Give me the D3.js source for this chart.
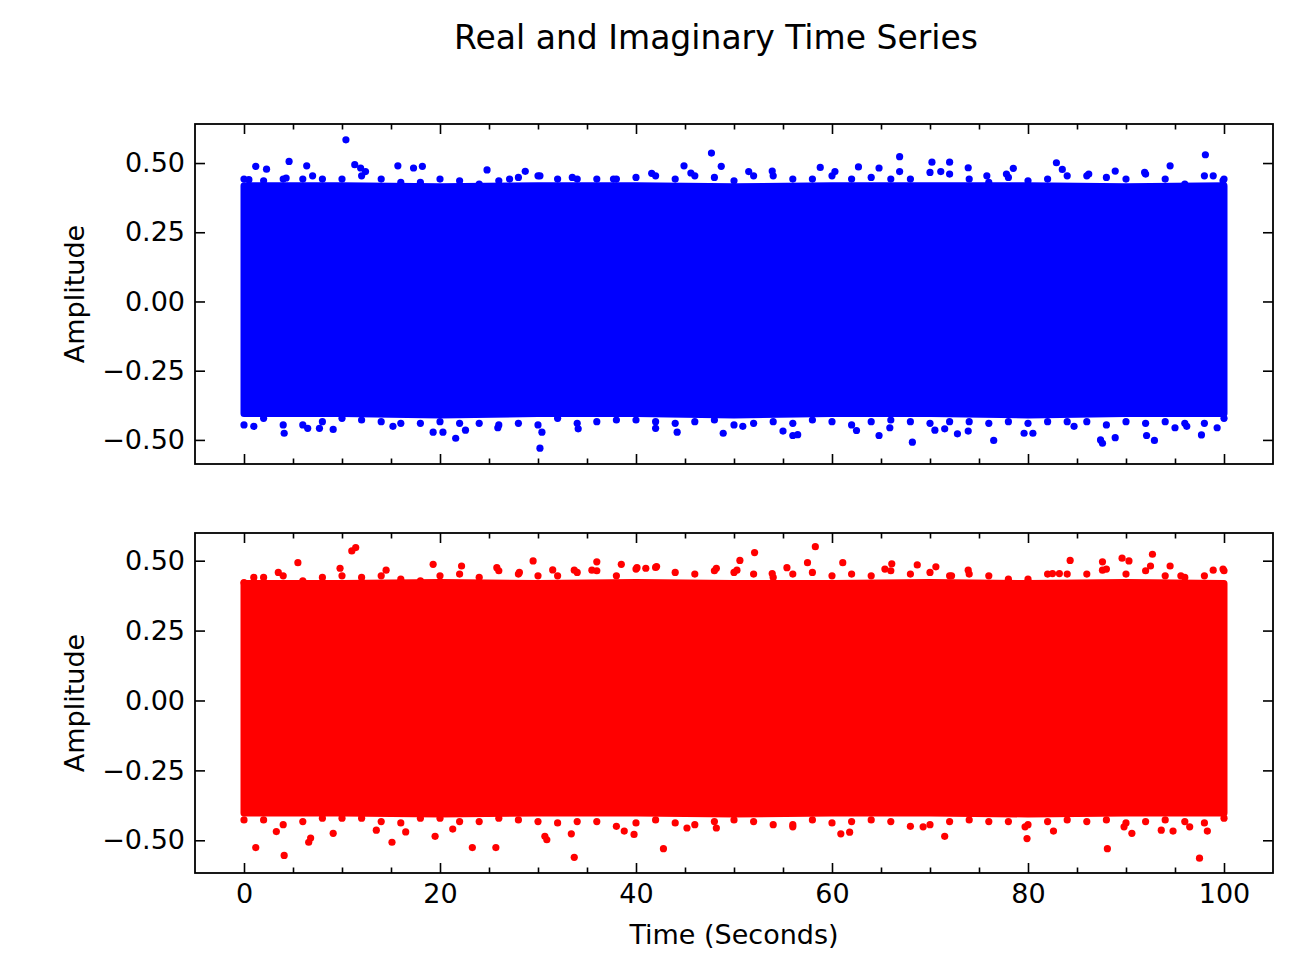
<!DOCTYPE html>
<html>
<head>
<meta charset="utf-8">
<script src="https://cdn.jsdelivr.net/npm/d3@7"></script>
<style>
  body { margin: 0; background: #fff; }
  text { font-family: "DejaVu Sans", sans-serif; fill: #000; }
</style>
</head>
<body>
<script>
// ---- values ----
const xTicks = [0, 20, 40, 60, 80, 100];
const xMinorTicks = [5, 10, 15, 25, 30, 35, 45, 50, 55, 65, 70, 75, 85, 90, 95];
const yTicks = [-0.5, -0.25, 0, 0.25, 0.5];

// solid core of the dense noise cloud, every 10 s
const coreTimes = [0, 10, 20, 30, 40, 50, 60, 70, 80, 90, 100];
const realCoreHi = [0.418, 0.418, 0.414, 0.418, 0.418, 0.414, 0.418, 0.418, 0.418, 0.414, 0.418];
const realCoreLo = [-0.405, -0.405, -0.41, -0.405, -0.405, -0.41, -0.405, -0.405, -0.41, -0.405, -0.405];
const imagCoreHi = [0.418, 0.418, 0.422, 0.418, 0.422, 0.418, 0.418, 0.422, 0.418, 0.422, 0.418];
const imagCoreLo = [-0.402, -0.402, -0.406, -0.402, -0.402, -0.406, -0.402, -0.402, -0.406, -0.402, -0.402];

// ragged edge of the cloud, every 2 s
const edgeTimes = [0, 2, 4, 6, 8, 10, 12, 14, 16, 18, 20, 22, 24, 26, 28, 30, 32, 34, 36, 38, 40,
  42, 44, 46, 48, 50, 52, 54, 56, 58, 60, 62, 64, 66, 68, 70, 72, 74, 76, 78, 80,
  82, 84, 86, 88, 90, 92, 94, 96, 98, 100];
const realEdgeHi = [0.442, 0.436, 0.442, 0.442, 0.442, 0.442, 0.454, 0.442, 0.430, 0.430, 0.442,
  0.436, 0.424, 0.436, 0.448, 0.454, 0.442, 0.442, 0.442, 0.442, 0.448, 0.454, 0.442, 0.454, 0.448,
  0.436, 0.454, 0.454, 0.442, 0.442, 0.454, 0.442, 0.448, 0.442, 0.442, 0.466, 0.460, 0.442, 0.430,
  0.448, 0.436, 0.442, 0.454, 0.454, 0.448, 0.442, 0.460, 0.442, 0.424, 0.454, 0.442];
const realEdgeLo = [-0.446, -0.422, -0.446, -0.446, -0.434, -0.422, -0.428, -0.434, -0.440, -0.440,
  -0.434, -0.440, -0.440, -0.446, -0.440, -0.446, -0.422, -0.440, -0.434, -0.428, -0.428, -0.434,
  -0.440, -0.434, -0.428, -0.446, -0.440, -0.434, -0.440, -0.428, -0.434, -0.446, -0.434, -0.428,
  -0.434, -0.440, -0.434, -0.434, -0.440, -0.434, -0.440, -0.434, -0.434, -0.434, -0.446, -0.434,
  -0.440, -0.434, -0.440, -0.440, -0.422];
const imagEdgeHi = [0.422, 0.440, 0.446, 0.428, 0.440, 0.446, 0.440, 0.446, 0.434, 0.428, 0.446,
  0.452, 0.440, 0.464, 0.452, 0.446, 0.446, 0.458, 0.464, 0.446, 0.470, 0.476, 0.458, 0.452, 0.464,
  0.458, 0.452, 0.440, 0.452, 0.458, 0.446, 0.452, 0.446, 0.464, 0.452, 0.458, 0.446, 0.452, 0.446,
  0.434, 0.434, 0.452, 0.452, 0.452, 0.470, 0.452, 0.464, 0.446, 0.440, 0.446, 0.464];
const imagEdgeLo = [-0.427, -0.427, -0.444, -0.433, -0.421, -0.421, -0.421, -0.433, -0.438, -0.421,
  -0.421, -0.433, -0.433, -0.421, -0.427, -0.433, -0.438, -0.433, -0.433, -0.450, -0.438, -0.427,
  -0.438, -0.444, -0.433, -0.427, -0.433, -0.444, -0.444, -0.427, -0.438, -0.433, -0.427, -0.433,
  -0.450, -0.444, -0.433, -0.427, -0.433, -0.433, -0.444, -0.433, -0.427, -0.433, -0.427, -0.438,
  -0.433, -0.427, -0.433, -0.438, -0.421];

// isolated points outside the cloud [time, amplitude]
const realOutliers = [
  [10.4, 0.584], [47.7, 0.536], [66.9, 0.523], [98.1, 0.530], [4.6, 0.506], [1.2, 0.488],
  [2.3, 0.478], [6.4, 0.490], [11.3, 0.494], [11.9, 0.482], [12.4, 0.469], [15.7, 0.490],
  [17.3, 0.482], [18.2, 0.488], [24.8, 0.475], [28.7, 0.470], [44.9, 0.490], [48.7, 0.488],
  [45.6, 0.464], [41.6, 0.463], [51.5, 0.469], [53.9, 0.471], [58.8, 0.484], [60.3, 0.469],
  [62.7, 0.486], [64.8, 0.482], [66.9, 0.469], [70.2, 0.503], [72.0, 0.503], [71.1, 0.469],
  [73.9, 0.483], [78.5, 0.481], [82.9, 0.501], [83.5, 0.477], [94.5, 0.490], [88.9, 0.471],
  [86.2, 0.460], [91.9, 0.466], [75.8, 0.454], [77.8, 0.460], [30.2, 0.454], [27.1, 0.442],
  [33.5, 0.448], [7.0, 0.454], [4.3, 0.446], [0.5, 0.440], [37.7, 0.442], [98.9, 0.454],
  [99.9, 0.436],
  [30.2, -0.530], [4.1, -0.476], [21.6, -0.494], [19.3, -0.472], [20.3, -0.472], [30.4, -0.472],
  [68.2, -0.508], [76.5, -0.502], [87.4, -0.500], [87.6, -0.512], [92.9, -0.502], [88.9, -0.492],
  [97.7, -0.482], [92.1, -0.484], [56.0, -0.484], [56.5, -0.481], [48.9, -0.476], [44.2, -0.472],
  [64.8, -0.484], [72.8, -0.478], [73.9, -0.468], [79.6, -0.476], [80.5, -0.476], [70.5, -0.465],
  [71.5, -0.460], [62.5, -0.466], [55.0, -0.468], [42.0, -0.458], [34.1, -0.460], [22.6, -0.465],
  [9.1, -0.462], [7.7, -0.458], [6.5, -0.458], [1.0, -0.451], [15.2, -0.451], [25.9, -0.456],
  [99.3, -0.456], [95.0, -0.456], [96.2, -0.451], [84.7, -0.451], [65.9, -0.456], [50.9, -0.451]
];
const imagOutliers = [
  [11.4, 0.547], [11.0, 0.535], [58.3, 0.550], [52.1, 0.529], [92.7, 0.523], [5.5, 0.493],
  [29.5, 0.499], [50.6, 0.501], [84.3, 0.501], [87.6, 0.496], [89.6, 0.509], [90.3, 0.499],
  [61.1, 0.493], [66.1, 0.489], [36.0, 0.496], [38.5, 0.487], [22.2, 0.481], [19.3, 0.487],
  [57.5, 0.493], [68.7, 0.485], [70.6, 0.478], [92.5, 0.481], [94.5, 0.481], [9.8, 0.473],
  [14.5, 0.466], [40.1, 0.475], [41.0, 0.473], [42.1, 0.479], [48.2, 0.473], [55.4, 0.475],
  [50.3, 0.466], [65.4, 0.470], [99.9, 0.470], [98.9, 0.466], [25.8, 0.475], [33.7, 0.466],
  [31.5, 0.467], [73.9, 0.466], [87.6, 0.466], [82.5, 0.454], [83.2, 0.454], [3.5, 0.458],
  [1.0, 0.440], [28.1, 0.458], [35.5, 0.466], [53.9, 0.454], [72.2, 0.446], [95.6, 0.446],
  [33.7, -0.561], [97.5, -0.564], [4.1, -0.554], [1.2, -0.526], [42.8, -0.530], [88.1, -0.530],
  [23.3, -0.526], [25.7, -0.526], [15.1, -0.507], [6.6, -0.507], [6.8, -0.492], [30.9, -0.498],
  [30.7, -0.486], [79.9, -0.494], [19.5, -0.486], [60.9, -0.477], [61.8, -0.471], [71.5, -0.486],
  [33.4, -0.477], [9.1, -0.475], [3.3, -0.469], [16.5, -0.470], [90.6, -0.475], [82.6, -0.467],
  [94.8, -0.467], [98.3, -0.467], [39.8, -0.479], [38.8, -0.467], [13.5, -0.464], [21.3, -0.460],
  [56.0, -0.452], [45.2, -0.456], [48.2, -0.456], [69.3, -0.452], [79.7, -0.452], [93.6, -0.464],
  [89.8, -0.452], [96.5, -0.452]
];

const w = 1314;
const h = 953;
const left = 195, right = 1273;

const svg = d3.select("body")
  .append("svg")
  .attr("width", w)
  .attr("height", h);

const xScale = d3.scaleLinear().domain([-5, 105]).range([left, right]);

const panels = [
  { top: 124, bottom: 464, domain: [-0.587, 0.641], color: "#0000ff",
    coreHi: realCoreHi, coreLo: realCoreLo, edgeHi: realEdgeHi, edgeLo: realEdgeLo,
    outliers: realOutliers, labels: false },
  { top: 533, bottom: 873, domain: [-0.617, 0.599], color: "#ff0000",
    coreHi: imagCoreHi, coreLo: imagCoreLo, edgeHi: imagEdgeHi, edgeLo: imagEdgeLo,
    outliers: imagOutliers, labels: true }
];

const fmt = d => d3.format(".2f")(d).replace("-", "\u2212");

panels.forEach(function(p) {
  const yScale = d3.scaleLinear().domain(p.domain).range([p.bottom, p.top]);
  const g = svg.append("g");

  // dense cloud core
  const area = d3.area()
    .x((d, i) => xScale(coreTimes[i]))
    .y0((d, i) => yScale(p.coreLo[i]))
    .y1(d => yScale(d));
  g.append("path")
    .datum(p.coreHi)
    .attr("d", area)
    .attr("fill", p.color)
    .attr("stroke", p.color)
    .attr("stroke-width", 7)
    .attr("stroke-linejoin", "round");

  // ragged edges
  const r = 3.6;
  g.selectAll(".edgeHi")
    .data(p.edgeHi)
    .enter()
    .append("circle")
    .attr("cx", (d, i) => xScale(edgeTimes[i]))
    .attr("cy", d => yScale(d))
    .attr("r", r)
    .attr("fill", p.color);
  g.selectAll(".edgeLo")
    .data(p.edgeLo)
    .enter()
    .append("circle")
    .attr("cx", (d, i) => xScale(edgeTimes[i]))
    .attr("cy", d => yScale(d))
    .attr("r", r)
    .attr("fill", p.color);

  g.selectAll(".out")
    .data(p.outliers)
    .enter()
    .append("circle")
    .attr("cx", d => xScale(d[0]))
    .attr("cy", d => yScale(d[1]))
    .attr("r", r)
    .attr("fill", p.color);

  // ticks, inward on all four sides
  const major = 10, minor = 5.5;
  const bottomAxis = d3.axisBottom(xScale).tickValues(xTicks).tickSize(-major).tickPadding(11)
    .tickFormat(p.labels ? d3.format("d") : "");
  g.append("g").attr("transform", "translate(0," + p.bottom + ")").call(bottomAxis);
  g.append("g").attr("transform", "translate(0," + p.bottom + ")")
    .call(d3.axisBottom(xScale).tickValues(xMinorTicks).tickSize(-minor).tickFormat(""));
  g.append("g").attr("transform", "translate(0," + p.top + ")")
    .call(d3.axisTop(xScale).tickValues(xTicks).tickSize(-major).tickFormat(""));
  g.append("g").attr("transform", "translate(0," + p.top + ")")
    .call(d3.axisTop(xScale).tickValues(xMinorTicks).tickSize(-minor).tickFormat(""));
  g.append("g").attr("transform", "translate(" + left + ",0)")
    .call(d3.axisLeft(yScale).tickValues(yTicks).tickSize(-major).tickPadding(10).tickFormat(fmt));
  g.append("g").attr("transform", "translate(" + right + ",0)")
    .call(d3.axisRight(yScale).tickValues(yTicks).tickSize(-major).tickFormat(""));

  g.selectAll(".domain").remove();
  g.selectAll(".tick line").attr("stroke", "#000").attr("stroke-width", 1.6);
  g.selectAll(".tick text")
    .style("font-family", "'DejaVu Sans', sans-serif")
    .style("font-size", "27px")
    .attr("fill", "#000");

  // frame
  g.append("rect")
    .attr("x", left)
    .attr("y", p.top)
    .attr("width", right - left)
    .attr("height", p.bottom - p.top)
    .attr("fill", "none")
    .attr("stroke", "#000")
    .attr("stroke-width", 1.8);

  svg.append("text")
    .attr("transform", "translate(84," + ((p.top + p.bottom) / 2) + ") rotate(-90)")
    .attr("text-anchor", "middle")
    .style("font-size", "27px")
    .text("Amplitude");
});

svg.append("text")
  .attr("x", 716)
  .attr("y", 49)
  .attr("text-anchor", "middle")
  .style("font-size", "33px")
  .text("Real and Imaginary Time Series");

svg.append("text")
  .attr("x", 734)
  .attr("y", 944)
  .attr("text-anchor", "middle")
  .style("font-size", "27px")
  .text("Time (Seconds)");
</script>
</body>
</html>
